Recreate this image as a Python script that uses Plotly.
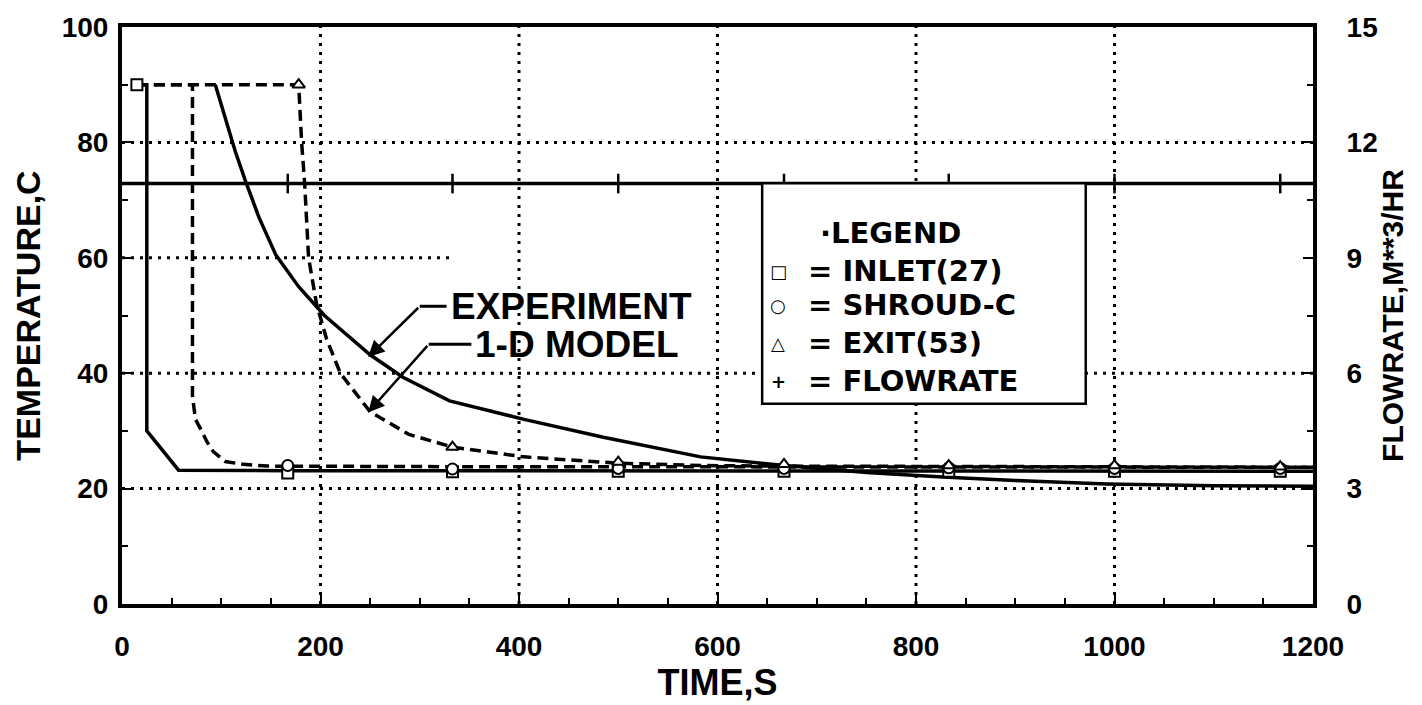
import plotly.graph_objects as go

# ---------------- data ----------------
# time in s, temperature in C
inlet_exp_time = [15, 25, 25, 57, 167, 333, 500, 667, 833, 1000, 1167, 1200]
inlet_exp_temp = [90, 90, 30, 23.2, 23.1, 23.1, 23.1, 23.0, 23.0, 23.0, 23.0, 23.0]

inlet_model_time = [15, 71, 71, 74, 79, 86, 92, 104, 122, 146, 333, 667, 1000, 1200]
inlet_model_temp = [90, 90, 36, 32, 30.4, 28.0, 26.4, 24.7, 24.2, 23.9, 23.8, 23.8, 23.7, 23.7]

exit_model_time = [15, 178, 181, 184, 188, 196, 206, 220, 250, 289, 333, 405, 500, 583, 667, 833, 1000, 1200]
exit_model_temp = [90, 90, 80, 73, 60, 52, 46, 40, 33.3, 29.4, 27.2, 25.5, 24.4, 24.0, 23.9, 23.8, 23.8, 23.7]

exit_exp_time = [94, 104, 114, 124, 138, 155, 178, 204, 250, 283, 330, 405, 485, 583, 662, 750, 827, 900, 992, 1100, 1200]
exit_exp_temp = [90, 84, 78.5, 73.5, 67, 60.5, 55, 50, 43.2, 39.3, 35.2, 32, 28.9, 25.5, 24.1, 22.8, 22.0, 21.4, 20.8, 20.5, 20.4]

# marker samples
inlet_mark_time = [15, 167, 333, 500, 667, 833, 1000, 1167]
inlet_mark_temp = [90, 22.7, 22.9, 23.0, 23.0, 23.0, 23.0, 23.0]
shroud_mark_time = [167, 333, 500, 667, 833, 1000, 1167]
shroud_mark_temp = [24.0, 23.4, 23.5, 23.5, 23.6, 23.5, 23.5]
exit_mark_time = [178, 333, 500, 667, 833, 1000, 1167]
exit_mark_temp = [90, 27.2, 24.6, 24.2, 24.0, 24.0, 23.8]

# flowrate (right axis)
flow_time = [0, 1200]
flow_value = [10.93, 10.93]
flow_mark_time = [167, 333, 500, 667, 833, 1000, 1167]
flow_mark_value = [10.93] * 7

x_ticks = [0, 200, 400, 600, 800, 1000, 1200]
y_ticks = [0, 20, 40, 60, 80, 100]
y2_ticks = [0, 3, 6, 9, 12, 15]
x_grid = [200, 400, 600, 800, 1000]
y_grid_full = [20, 40, 80]
y_grid_partial = 60
y_grid_partial_end = 330

BOLD = "Liberation Sans"
WIDE = "DejaVu Sans"

fig = go.Figure()

solid = dict(color="black", width=3.5)
dashed = dict(color="black", width=3.5, dash="11px,6px")

fig.add_trace(go.Scatter(x=inlet_model_time, y=inlet_model_temp, mode="lines", line=dashed, name="INLET 1-D MODEL"))
fig.add_trace(go.Scatter(x=exit_model_time, y=exit_model_temp, mode="lines", line=dashed, name="EXIT 1-D MODEL"))
fig.add_trace(go.Scatter(x=inlet_exp_time, y=inlet_exp_temp, mode="lines", line=solid, name="INLET EXPERIMENT"))
fig.add_trace(go.Scatter(x=exit_exp_time, y=exit_exp_temp, mode="lines", line=solid, name="EXIT EXPERIMENT"))

mk = dict(color="white", size=11, line=dict(color="black", width=2))
fig.add_trace(go.Scatter(x=inlet_mark_time, y=inlet_mark_temp, mode="markers",
                         marker=dict(symbol="square", **mk), name="INLET(27)"))
fig.add_trace(go.Scatter(x=shroud_mark_time, y=shroud_mark_temp, mode="markers",
                         marker=dict(symbol="circle", **mk), name="SHROUD-C"))
fig.add_trace(go.Scatter(x=exit_mark_time, y=exit_mark_temp, mode="markers",
                         marker=dict(symbol="triangle-up", **mk), name="EXIT(53)"))

fig.add_trace(go.Scatter(x=flow_time, y=flow_value, mode="lines", yaxis="y2",
                         line=dict(color="black", width=3.5), name="FLOWRATE"))
fig.add_trace(go.Scatter(x=flow_mark_time, y=flow_mark_value, mode="markers", yaxis="y2",
                         marker=dict(symbol="line-ns", size=14, line=dict(color="black", width=2.5)),
                         name="FLOWRATE marks"))

# dotted grid
grid_line = dict(color="black", width=3, dash="3px,6px")
for gx in x_grid:
    fig.add_shape(type="line", xref="x", yref="y", x0=gx, x1=gx, y0=0, y1=100, line=grid_line, layer="below")
for gy in y_grid_full:
    fig.add_shape(type="line", xref="x", yref="y", x0=0, x1=1200, y0=gy, y1=gy, line=grid_line, layer="below")
fig.add_shape(type="line", xref="x", yref="y", x0=0, x1=y_grid_partial_end, y0=y_grid_partial, y1=y_grid_partial,
              line=grid_line, layer="below")

# legend box
fig.add_shape(type="rect", xref="x", yref="y", x0=645, x1=971, y0=34.7, y1=72.9,
              line=dict(color="black", width=2.5), fillcolor="white", layer="above")

legend_rows = [("□", "= INLET(27)", 57.7), ("○", "= SHROUD-C", 51.8),
               ("△", "= EXIT(53)", 45.2), ("+", "= FLOWRATE", 38.6)]
fig.add_annotation(x=701, y=64.3, xref="x", yref="y", text="·LEGEND", showarrow=False,
                   xanchor="left", yanchor="middle", font=dict(family=WIDE, size=29, color="black", weight="bold"))
for sym, txt, yy in legend_rows:
    fig.add_annotation(x=661, y=yy, xref="x", yref="y", text=sym, showarrow=False,
                       xanchor="center", yanchor="middle", font=dict(family=WIDE, size=18, color="black", weight="bold"))
    fig.add_annotation(x=689, y=yy, xref="x", yref="y", text=txt, showarrow=False,
                       xanchor="left", yanchor="middle", font=dict(family=WIDE, size=29, color="black", weight="bold"))

# call-outs
label_font = dict(family=BOLD, size=37, color="black", weight="bold")
fig.add_annotation(x=329, y=51.6, xref="x", yref="y", text="EXPERIMENT", showarrow=False,
                   xanchor="left", yanchor="middle", font=label_font)
fig.add_annotation(x=354, y=45.0, xref="x", yref="y", text="1-D MODEL", showarrow=False,
                   xanchor="left", yanchor="middle", font=label_font)
fig.add_shape(type="line", xref="x", yref="y", x0=300, x1=327, y0=51.6, y1=51.6,
              line=dict(color="black", width=3), layer="above")
fig.add_shape(type="line", xref="x", yref="y", x0=309, x1=352, y0=45.0, y1=45.0,
              line=dict(color="black", width=3), layer="above")
fig.add_annotation(x=248, y=42.8, ax=300, ay=51.6, xref="x", yref="y", axref="x", ayref="y",
                   text="", showarrow=True, arrowhead=2, arrowsize=1.3, arrowwidth=2.5, arrowcolor="black")
fig.add_annotation(x=248, y=33.2, ax=309, ay=45.0, xref="x", yref="y", axref="x", ayref="y",
                   text="", showarrow=True, arrowhead=2, arrowsize=1.3, arrowwidth=2.5, arrowcolor="black")

tick_font = dict(family=BOLD, size=28, color="black", weight="bold")
title_font = dict(family=BOLD, size=36, color="black", weight="bold")

fig.update_layout(
    width=1422, height=705,
    margin=dict(l=122, r=109, t=22, b=92),
    paper_bgcolor="white", plot_bgcolor="white",
    showlegend=False,
    xaxis=dict(range=[0, 1200], tickvals=x_ticks, ticks="inside", ticklen=10, tickwidth=2,
               tickcolor="black", showline=True, linewidth=4, linecolor="black", mirror=True,
               showgrid=False, zeroline=False, tickfont=tick_font, ticklabelstandoff=14,
               minor=dict(dtick=50, ticks="inside", ticklen=6, tickwidth=2, tickcolor="black", showgrid=False),
               title=dict(text="TIME,S", font=title_font, standoff=6)),
    yaxis=dict(range=[0, 100], tickvals=y_ticks, ticks="inside", ticklen=10, tickwidth=2,
               tickcolor="black", showline=True, linewidth=4, linecolor="black", mirror=True,
               showgrid=False, zeroline=False, tickfont=tick_font, ticklabelstandoff=4,
               minor=dict(dtick=10, ticks="inside", ticklen=6, tickwidth=2, tickcolor="black", showgrid=False),
               title=dict(text="TEMPERATURE,C", font=dict(family=BOLD, size=34, color="black", weight="bold"),
                          standoff=12)),
    yaxis2=dict(range=[0, 15], tickvals=y2_ticks, overlaying="y", side="right", ticks="inside",
                ticklen=10, tickwidth=2, tickcolor="black", showline=True, linewidth=4, linecolor="black",
                showgrid=False, zeroline=False, tickfont=tick_font, ticklabelstandoff=24,
                minor=dict(dtick=1.5, ticks="inside", ticklen=6, tickwidth=2, tickcolor="black", showgrid=False),
                title=dict(text="FLOWRATE,M**3/HR", font=dict(family=BOLD, size=30, color="black", weight="bold"),
                           standoff=6)),
)

fig.write_html("out.html", config={"displayModeBar": False},
               post_script="document.body.style.margin='0';")
